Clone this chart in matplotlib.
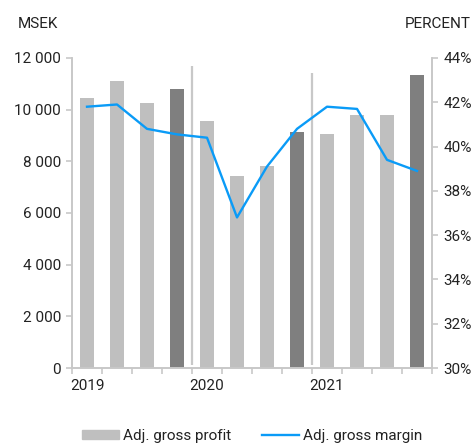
import numpy as np
import matplotlib.pyplot as plt
from matplotlib.ticker import FuncFormatter

plt.rcParams['font.family'] = ['Roboto', 'DejaVu Sans']

# data: quarterly, 2019 Q1 - 2021 Q4
quarters = ['2019 Q1', '2019 Q2', '2019 Q3', '2019 Q4',
            '2020 Q1', '2020 Q2', '2020 Q3', '2020 Q4',
            '2021 Q1', '2021 Q2', '2021 Q3', '2021 Q4']
gross_profit = [10450, 11110, 10260, 10800, 9560, 7430, 7820, 9140, 9060, 9790, 9790, 11340]
gross_margin = [41.8, 41.9, 40.8, 40.55, 40.4, 36.8, 39.1, 40.8, 41.8, 41.7, 39.4, 38.9]
year_labels = ['2019', '2020', '2021']

light = '#BFBFBF'
dark = '#7F7F7F'
blue = '#0A9BF7'
axcol = '#C8C8C8'
txt = '#222222'

fig = plt.figure(figsize=(4.76, 4.43), dpi=100)
ax = fig.add_axes([0.1513, 0.1693, 0.7563, 0.6998])
ax2 = ax.twinx()

x = np.arange(len(quarters))
colors = [dark if q.endswith('Q4') else light for q in quarters]
ax.bar(x, gross_profit, width=0.47, color=colors, zorder=2)

# year separators
ax.vlines(3.5, 100, 11690, color=axcol, lw=1.6, zorder=1)
ax.vlines(7.5, 100, 11420, color=axcol, lw=1.6, zorder=1)

ax2.plot(x, gross_margin, color=blue, lw=1.7, zorder=3)

ax.set_xlim(-0.5, 11.5)
ax.set_ylim(0, 12000)
ax2.set_ylim(30, 44)

ax.set_yticks(np.arange(0, 12001, 2000))
ax.yaxis.set_major_formatter(FuncFormatter(lambda v, p: f'{int(v):,}'.replace(',', ' ')))
ax2.set_yticks(np.arange(30, 45, 2))
ax2.yaxis.set_major_formatter(FuncFormatter(lambda v, p: f'{int(v)}%'))

ax.set_xticks([0, 4, 8])
ax.set_xticklabels(year_labels)
ax.set_xticks(np.arange(-0.5, 12, 1), minor=True)
ax.tick_params(axis='x', which='major', length=0, pad=8, labelsize=11, labelcolor=txt)
ax.tick_params(axis='x', which='minor', length=4, color=axcol, width=1.2)
ax.tick_params(axis='y', length=4, color=axcol, width=1.2, labelsize=11, labelcolor=txt, pad=4)
ax2.tick_params(axis='y', length=4, color=axcol, width=1.2, labelsize=11, labelcolor=txt, pad=4)

for a in (ax, ax2):
    a.spines['top'].set_visible(False)
    for s in ('left', 'right', 'bottom'):
        a.spines[s].set_color(axcol)
        a.spines[s].set_linewidth(1.2)

fig.text(0.038, 0.945, 'MSEK', fontsize=11, color=txt, va='center', ha='left')
fig.text(0.988, 0.945, 'PERCENT', fontsize=11, color=txt, va='center', ha='right')

h1 = plt.Rectangle((0, 0), 1, 1, color=light)
h2 = plt.Line2D([], [], color=blue, lw=1.7)
fig.legend([h1, h2], ['Adj. gross profit', 'Adj. gross margin'], loc='center',
           bbox_to_anchor=(0.53, 0.016), ncol=2, frameon=False, fontsize=11,
           handlelength=2.4, handleheight=0.6, columnspacing=2.0, handletextpad=0.3,
           labelcolor=txt)

fig.savefig('out.png', dpi=100)
